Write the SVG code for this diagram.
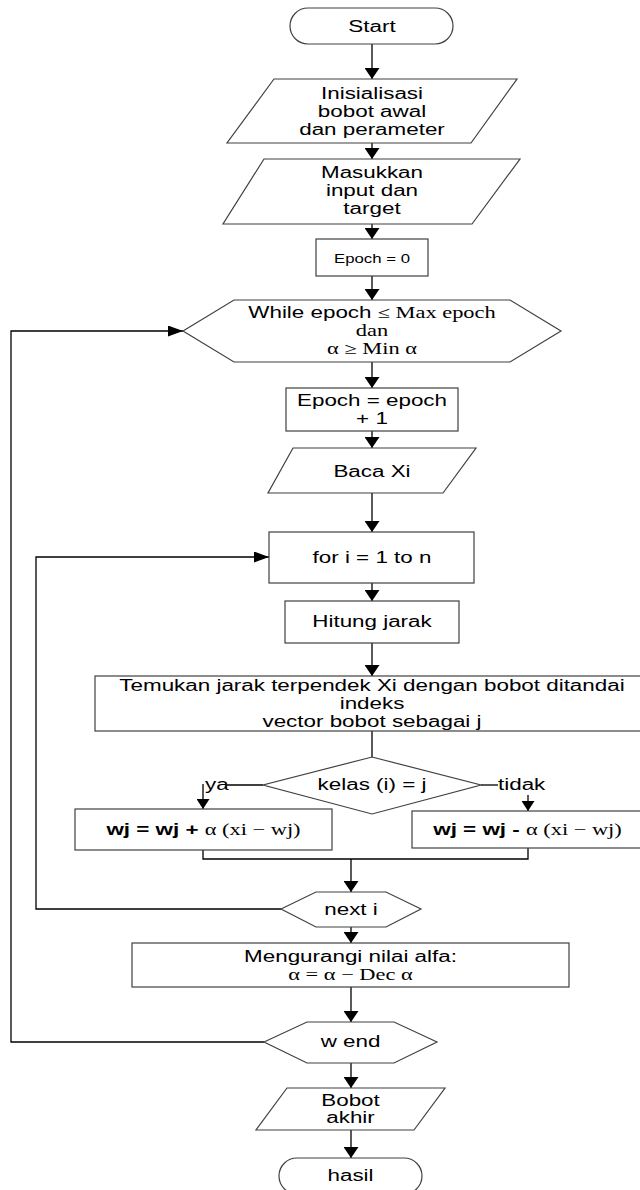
<svg xmlns="http://www.w3.org/2000/svg" width="640" height="1190" viewBox="0 0 640 1190">
<style>
.s{fill:#fff;stroke:#404040;stroke-width:1.2}
.c{fill:none;stroke:#000;stroke-width:1.3}
.a{marker-end:url(#ah)}
.ah{marker-end:url(#ahh)}
.as{marker-end:url(#ahs)}
.t{font-family:"Liberation Sans",Arial,sans-serif;font-size:16px;fill:#000;text-anchor:middle}
.l{text-anchor:start}
.sm{font-size:12px}
.m{font-family:"Liberation Serif","Times New Roman",serif}
.b{font-weight:bold}
</style>
<defs>
<marker id="ah" viewBox="0 0 11 15" markerWidth="11" markerHeight="15" refX="11" refY="7.5" orient="auto" markerUnits="userSpaceOnUse"><path d="M0,0 L11,7.5 L0,15 Z" fill="#000"/></marker>
<marker id="ahh" viewBox="0 0 15 11" markerWidth="15" markerHeight="11" refX="15" refY="5.5" orient="auto" markerUnits="userSpaceOnUse"><path d="M0,0 L15,5.5 L0,11 Z" fill="#000"/></marker>
<marker id="ahs" viewBox="0 0 10 13" markerWidth="10" markerHeight="13" refX="10" refY="6.5" orient="auto" markerUnits="userSpaceOnUse"><path d="M0,0 L10,6.5 L0,13 Z" fill="#000"/></marker>
</defs>
<rect width="640" height="1190" fill="#fff"/>

<g id="connectors">
<path class="c a" d="M372,44 V79"/>
<path class="c a" d="M372,143 V159"/>
<path class="c a" d="M372,224 V239"/>
<path class="c a" d="M372,276 V300"/>
<path class="c a" d="M372,362 V388"/>
<path class="c a" d="M372,431 V448"/>
<path class="c a" d="M372,493 V532"/>
<path class="c a" d="M372,583 V601"/>
<path class="c a" d="M372,643 V676"/>
<path class="c" d="M372,731 V757"/>
<path class="c" d="M263,785 H227"/>
<path class="c as" d="M203,784 V809"/>
<path class="c" d="M481,785 H498"/>
<path class="c as" d="M528,795 V811"/>
<path class="c" d="M203,850 V859 H528 V848"/>
<path class="c a" d="M351,859 V892"/>
<path class="c a" d="M351,927 V943"/>
<path class="c a" d="M351,987 V1022"/>
<path class="c a" d="M351,1063 V1088"/>
<path class="c a" d="M351,1130 V1158"/>
<path class="c ah" d="M281,909 H36 V557 H269"/>
<path class="c ah" d="M264,1042 H11 V331 H183"/>
</g>

<g id="start">
<rect class="s" x="290" y="8" width="163" height="36" rx="18" ry="18"/>
<text class="t" transform="translate(372,0) scale(1.4,1)" y="32">Start</text>
</g>

<g id="init">
<polygon class="s" points="274,79 517,79 471,143 227,143"/>
<text class="t" transform="translate(372,0) scale(1.4,1)"><tspan x="0" y="99">Inisialisasi</tspan><tspan x="0" y="117">bobot awal</tspan><tspan x="0" y="135">dan perameter</tspan></text>
</g>

<g id="input">
<polygon class="s" points="264,159 520,159 472,224 223,224"/>
<text class="t" transform="translate(372,0) scale(1.4,1)"><tspan x="0" y="178">Masukkan</tspan><tspan x="0" y="196">input dan</tspan><tspan x="0" y="214">target</tspan></text>
</g>

<g id="epoch0">
<rect class="s" x="316" y="239" width="112" height="37"/>
<text class="t sm" transform="translate(372,0) scale(1.4,1)" y="263">Epoch = 0</text>
</g>

<g id="while">
<polygon class="s" points="183,331 234,300 510,300 561,331 510,362 234,362"/>
<text class="t" transform="translate(372,0) scale(1.4,1)"><tspan x="0" y="318">While epoch <tspan class="m">≤ Max epoch</tspan></tspan><tspan class="m" x="0" y="336">dan</tspan><tspan class="m" x="0" y="354">α ≥ Min α</tspan></text>
</g>

<g id="epochinc">
<rect class="s" x="286" y="388" width="172" height="43"/>
<text class="t" transform="translate(372,0) scale(1.4,1)"><tspan x="0" y="406">Epoch = epoch</tspan><tspan x="0" y="424">+ 1</tspan></text>
</g>

<g id="baca">
<polygon class="s" points="293,448 476,448 443,493 268,493"/>
<text class="t" transform="translate(372,0) scale(1.4,1)" y="477">Baca Xi</text>
</g>

<g id="fori">
<rect class="s" x="269" y="532" width="205" height="51"/>
<text class="t" transform="translate(372,0) scale(1.4,1)" y="563">for i = 1 to n</text>
</g>

<g id="hitung">
<rect class="s" x="285" y="601" width="174" height="42"/>
<text class="t" transform="translate(372,0) scale(1.4,1)" y="627">Hitung jarak</text>
</g>

<g id="temukan">
<rect class="s" x="95" y="676" width="554" height="55"/>
<text class="t" transform="translate(372,0) scale(1.4,1)"><tspan x="0" y="691">Temukan jarak terpendek Xi dengan bobot ditandai</tspan><tspan x="0" y="709">indeks</tspan><tspan x="0" y="727">vector bobot sebagai j</tspan></text>
</g>

<g id="kelas">
<polygon class="s" points="372,757 481,785 372,814 263,785"/>
<text class="t" transform="translate(372,0) scale(1.4,1)" y="790">kelas (i) = j</text>
</g>

<g id="labels">
<text class="t l" transform="translate(205,0) scale(1.4,1)" y="790">ya</text>
<text class="t l" transform="translate(498,0) scale(1.4,1)" y="790">tidak</text>
</g>

<g id="wjplus">
<rect class="s" x="75" y="809" width="257" height="41"/>
<text class="t" transform="translate(203.5,0) scale(1.4,1)" y="835"><tspan class="b">wj = wj + </tspan><tspan class="m">α (xi − wj)</tspan></text>
</g>

<g id="wjminus">
<rect class="s" x="412" y="811" width="230" height="37"/>
<text class="t" transform="translate(527.5,0) scale(1.4,1)" y="835"><tspan class="b">wj = wj - </tspan><tspan class="m">α (xi − wj)</tspan></text>
</g>

<g id="nexti">
<polygon class="s" points="281,909 316,892 386,892 421,909 386,927 316,927"/>
<text class="t" transform="translate(351,0) scale(1.4,1)" y="915">next i</text>
</g>

<g id="mengurangi">
<rect class="s" x="132" y="943" width="437" height="44"/>
<text class="t" transform="translate(350.5,0) scale(1.4,1)"><tspan x="0" y="962">Mengurangi nilai alfa:</tspan><tspan class="m" x="0" y="980">α = α − Dec α</tspan></text>
</g>

<g id="wend">
<polygon class="s" points="264,1042 307,1022 394,1022 437,1042 394,1063 307,1063"/>
<text class="t" transform="translate(350.5,0) scale(1.4,1)" y="1047">w end</text>
</g>

<g id="bobot">
<polygon class="s" points="287,1088 445,1088 414,1130 256,1130"/>
<text class="t" transform="translate(350.5,0) scale(1.4,1)"><tspan x="0" y="1106">Bobot</tspan><tspan x="0" y="1123">akhir</tspan></text>
</g>

<g id="hasil">
<rect class="s" x="279" y="1158" width="143" height="36" rx="18" ry="18"/>
<text class="t" transform="translate(350.5,0) scale(1.4,1)" y="1181">hasil</text>
</g>
</svg>
